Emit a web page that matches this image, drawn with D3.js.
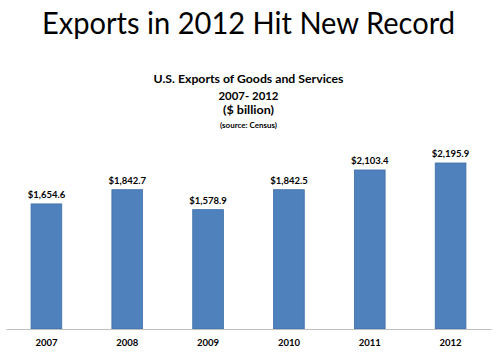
<!DOCTYPE html>
<html><head><meta charset="utf-8">
<script src="https://cdn.jsdelivr.net/npm/d3@7"></script>
<style>body{margin:0;background:#fff}svg{display:block}text{font-family:Lato,"Open Sans",sans-serif}</style>
</head><body>
<svg id="c" width="500" height="354"></svg>
<script>
const years = ["2007","2008","2009","2010","2011","2012"];
const exportsBn = [1654.6, 1842.7, 1578.9, 1842.5, 2103.4, 2195.9];
const titleText = "Exports in 2012 Hit New Record";
const subtitleLines = ["U.S. Exports of Goods and Services", "2007- 2012", "($ billion)"];
const sourceText = "(source: Census)";

const svg = d3.select("#c");
const x = d3.scaleBand().domain(years).range([6, 491]).paddingInner(0.62).paddingOuter(0.31);
const y = d3.scaleLinear().domain([0, 2500]).range([329, 140]);

svg.append("text").attr("x", 248.5).attr("y", 34).attr("text-anchor", "middle")
  .attr("font-size", 30).attr("fill", "#000")
  .attr("textLength", 413).attr("lengthAdjust", "spacingAndGlyphs").text(titleText);

const subY = [83, 100, 114];
const subW = [190, 60, 51];
const subF = [11, 12, 12];
subtitleLines.forEach((t, i) => {
  svg.append("text").attr("x", 248.5).attr("y", subY[i]).attr("text-anchor", "middle")
    .attr("font-size", subF[i]).attr("font-weight", "bold").attr("fill", "#000")
    .attr("textLength", subW[i]).attr("lengthAdjust", "spacingAndGlyphs").text(t);
});
svg.append("text").attr("x", 248.5).attr("y", 128).attr("text-anchor", "middle")
  .attr("font-size", 7.5).attr("font-weight", "bold").attr("fill", "#000")
  .attr("textLength", 57).attr("lengthAdjust", "spacingAndGlyphs").text(sourceText);

svg.selectAll("rect.bar").data(exportsBn).join("rect").attr("class", "bar")
  .attr("x", (d, i) => x(years[i]))
  .attr("y", d => y(d))
  .attr("width", x.bandwidth())
  .attr("height", d => y(0) - y(d))
  .attr("fill", "#4F81BD").attr("stroke", "#3f6fa8").attr("stroke-width", 0.8);

const fmt = d3.format(",.1f");
svg.selectAll("text.val").data(exportsBn).join("text").attr("class", "val")
  .attr("x", (d, i) => x(years[i]) + x.bandwidth() / 2)
  .attr("y", d => y(d) - 6)
  .attr("text-anchor", "middle").attr("font-size", 9.5).attr("font-weight", "bold").attr("fill", "#000")
  .text(d => "$" + fmt(d));

const xAxis = svg.append("g").attr("transform", "translate(0,329)")
  .call(d3.axisBottom(x).tickSize(0).tickPadding(10));
xAxis.select(".domain").attr("stroke", "#BFBFBF").attr("stroke-width", 1.2);
xAxis.selectAll("text").attr("font-size", 9.5).attr("font-weight", "bold").attr("fill", "#000")
  .attr("font-family", "Lato, 'Open Sans', sans-serif");
</script>
</body></html>
